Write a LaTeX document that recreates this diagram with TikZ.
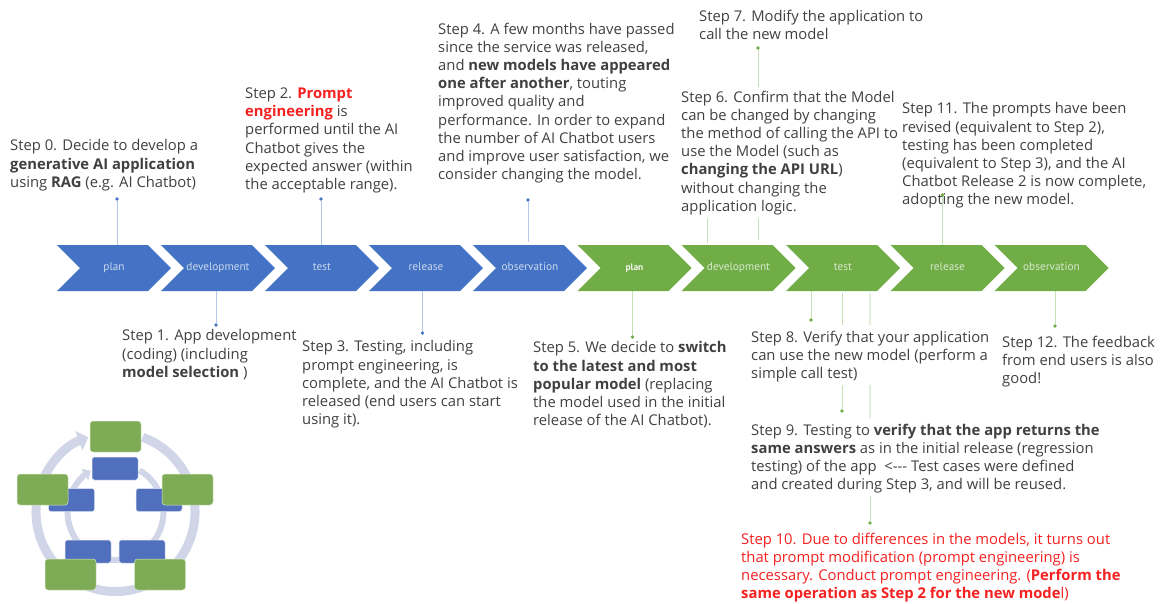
\documentclass[tikz,border=0pt]{standalone}
\usepackage{fontspec}
\setmainfont{Open Sans}
\newfontfamily\chevfont{PT Sans}
\usetikzlibrary{shapes, positioning, arrows.meta}
\definecolor{bluefill}{HTML}{4472C4}
\definecolor{greenfill}{HTML}{70AD47}
\definecolor{bluepale}{HTML}{B4C7E7}
\definecolor{greenpale}{HTML}{C5E0B4}
\definecolor{greenfaint}{HTML}{E2F0D9}
\definecolor{ringcol}{HTML}{D0D5E8}
\definecolor{bodycol}{HTML}{404040}
\definecolor{redcol}{HTML}{F52020}
\definecolor{cycblue}{HTML}{5070BE}
\definecolor{cycgreen}{HTML}{7EAB55}
\tikzset{
  chev/.style={signal, signal from=west, signal to=east, signal pointer angle=90,
    minimum width=114pt, minimum height=46pt, inner sep=0pt, outer sep=0pt,
    text height=8pt, text depth=2.5pt,
    font=\chevfont\fontsize{11.3pt}{12pt}\selectfont},
  bluechev/.style={chev, fill=bluefill, text=bluepale!70!white},
  greenchev/.style={chev, fill=greenfill, text=greenpale!70!white},
  steptext/.style={anchor=north west, align=left, inner sep=0pt, text=bodycol,
    font=\fontsize{14.8pt}{18.2pt}\selectfont},
  redtext/.style={steptext, text=redcol},
  bluedot/.style={circle, fill=bluefill, inner sep=0pt, minimum size=3.6pt},
  greendot/.style={circle, fill=greenfill, inner sep=0pt, minimum size=3.6pt},
  bluelink/.style={draw=bluepale, line width=0.8pt},
  greenlink/.style={draw=greenpale, line width=0.8pt},
  faintlink/.style={draw=greenfaint, line width=1.4pt},
  cycbox/.style={draw=white!80!cycblue, rounded corners=2.5pt, fill=cycblue, line width=0.5pt,
    minimum width=46pt, minimum height=23pt, inner sep=0pt},
  cycboxg/.style={draw=white!70!cycgreen, rounded corners=3pt, fill=cycgreen, line width=0.5pt,
    minimum width=51pt, minimum height=31pt, inner sep=0pt}
}
\begin{document}
\begin{tikzpicture}[x=1pt, y=-1pt]
  \useasboundingbox (0,0) rectangle (1163,603);

  % chevrons
  \foreach \nm/\lbl/\xpos in {plana/plan/114, deva/development/218, testa/test/322,
    relea/release/426, obsa/observation/530}
    \node[bluechev] (\nm) at (\xpos,268) {\lbl};
  \foreach \nm/\lbl/\xpos in {devb/development/738.5, testb/test/843,
    releb/release/947.5, obsb/observation/1051.5}
    \node[greenchev] (\nm) at (\xpos,268) {\lbl};
  \node[greenchev, font=\chevfont\bfseries\fontsize{9.5pt}{12pt}\selectfont, text=white!90!greenfill] (planb) at (634.5,268) {plan};

  % texts
  \node[steptext] (stepzero) at (10,139.5) {Step 0. Decide to develop a\\\textbf{generative AI application}\\using \textbf{RAG} (e.g. AI Chatbot)};
  \node[steptext] (stepone) at (122,329.5) {Step 1. App development\\(coding) (including\\\textbf{model selection} )};
  \node[steptext] (steptwo) at (245,87.5) {Step 2. \textcolor{redcol}{\textbf{Prompt}}\\\textcolor{redcol}{\textbf{engineering}} is\\performed until the AI\\Chatbot gives the\\expected answer (within\\the acceptable range).};
  \node[steptext] (stepthree) at (302,340.5) {Step 3. Testing, including\\prompt engineering, is\\complete, and the AI Chatbot is\\released (end users can start\\using it).};
  \node[steptext] (stepfour) at (438,22.5) {Step 4. A few months have passed\\since the service was released,\\and \textbf{new models have appeared}\\\textbf{one after another}, touting\\improved quality and\\performance. In order to expand\\the number of AI Chatbot users\\and improve user satisfaction, we\\consider changing the model.};
  \node[steptext] (stepfive) at (533,341.5) {Step 5. We decide to \textbf{switch}\\\textbf{to the latest and most}\\\textbf{popular model} (replacing\\the model used in the initial\\release of the AI Chatbot).};
  \node[steptext] (stepsix) at (681,90.5) {Step 6. Confirm that the Model\\can be changed by changing\\the method of calling the API to\\use the Model (such as\\\textbf{changing the API URL})\\without changing the\\application logic.};
  \node[steptext] (stepseven) at (699,9.5) {Step 7. Modify the application to\\call the new model};
  \node[steptext] (stepeight) at (751,330.5) {Step 8. Verify that your application\\can use the new model (perform a\\simple call test)};
  \node[steptext] (stepnine) at (751,423.5) {Step 9. Testing to \textbf{verify that the app returns the}\\\textbf{same answers} as in the initial release (regression\\testing) of the app\ \ <{-}{-}{-} Test cases were defined\\and created during Step 3, and will be reused.};
  \node[redtext] (stepten) at (741,532.5) {Step 10. Due to differences in the models, it turns out\\that prompt modification (prompt engineering) is\\necessary. Conduct prompt engineering. (\textbf{Perform the}\\\textbf{same operation as Step 2 for the new mode}l)};
  \node[steptext] (stepeleven) at (902,102.5) {Step 11. The prompts have been\\revised (equivalent to Step 2),\\testing has been completed\\(equivalent to Step 3), and the AI\\Chatbot Release 2 is now complete,\\adopting the new model.};
  \node[steptext] (steptwelve) at (1002,335.5) {Step 12. The feedback\\from end users is also\\good!};

  % connectors with a dot on the free end
  \foreach \nm/\xpos/\ypos/\tgt in {dotzero/117/199/plana.north, dottwo/321/199/testa.north,
    dotone/216/325/deva.south, dotthree/422.5/333/relea.south}
  {
    \node[bluedot] (\nm) at (\xpos,\ypos) {};
    \draw[bluelink] (\nm) -- (\nm |- \tgt);
  }
  \foreach \nm/\xpos/\ypos/\tgt in {dotfive/632.5/337/planb.south, doteight/811/320/testb.south,
    doteleven/942.5/195/releb.north, dottwelve/1055/326/obsb.south}
  {
    \node[greendot] (\nm) at (\xpos,\ypos) {};
    \draw[greenlink] (\nm) -- (\nm |- \tgt);
  }
  \node[bluedot] (dotfour) at (528,200) {};
  \coordinate (endfour) at (528,242);
  \draw[bluelink] (dotfour) -- (endfour);
  \node[greendot] (dotseven) at (758,48) {};
  \coordinate (endseven) at (758,87);
  \draw[greenlink] (dotseven) -- (endseven);
  \node[greendot] (dotnine) at (842,411) {};
  \coordinate (endnine) at (842,385);
  \draw[greenlink] (dotnine) -- (endnine);
  \node[greendot] (dotten) at (870,523) {};
  \coordinate (endten) at (870,496);
  \draw[greenlink] (dotten) -- (endten);

  % connectors with two free ends
  \foreach \nm/\xpos/\ya/\yb/\stl in {sixa/707/218/243/greenlink, sixb/758/218/240/greenlink,
    tena/842/293/325/greenlink, tenb/870/293/325/faintlink, tenc/870/385/418/faintlink}
  {
    \coordinate (\nm top) at (\xpos,\ya);
    \coordinate (\nm bot) at (\xpos,\yb);
    \draw[\stl] (\nm top) -- (\nm bot);
  }

  % cycle chart
  \coordinate (cyc) at (115.5,512);
  \draw[ringcol, line width=9pt, -{Triangle[length=10pt, width=20pt]}]
    (cyc) ++(70:79.5pt) arc[start angle=70, end angle=-250, radius=79.5pt];
  \draw[ringcol, line width=6pt, -{Triangle[length=7pt, width=13pt]}]
    (cyc) ++(60:48pt) arc[start angle=60, end angle=-239, radius=48pt];
  \foreach \nm/\xpos/\ypos in {cba/115/468.5, cbb/71.5/500, cbc/159/500, cbd/88/551.5, cbe/142/551.5}
    \node[cycbox] (\nm) at (\xpos,\ypos) {};
  \foreach \nm/\xpos/\ypos in {cga/115.5/436.5, cgb/42.5/489.5, cgc/187.5/489.5, cgd/70.5/574.5, cge/160/574.5}
    \node[cycboxg] (\nm) at (\xpos,\ypos) {};
\end{tikzpicture}
\end{document}
